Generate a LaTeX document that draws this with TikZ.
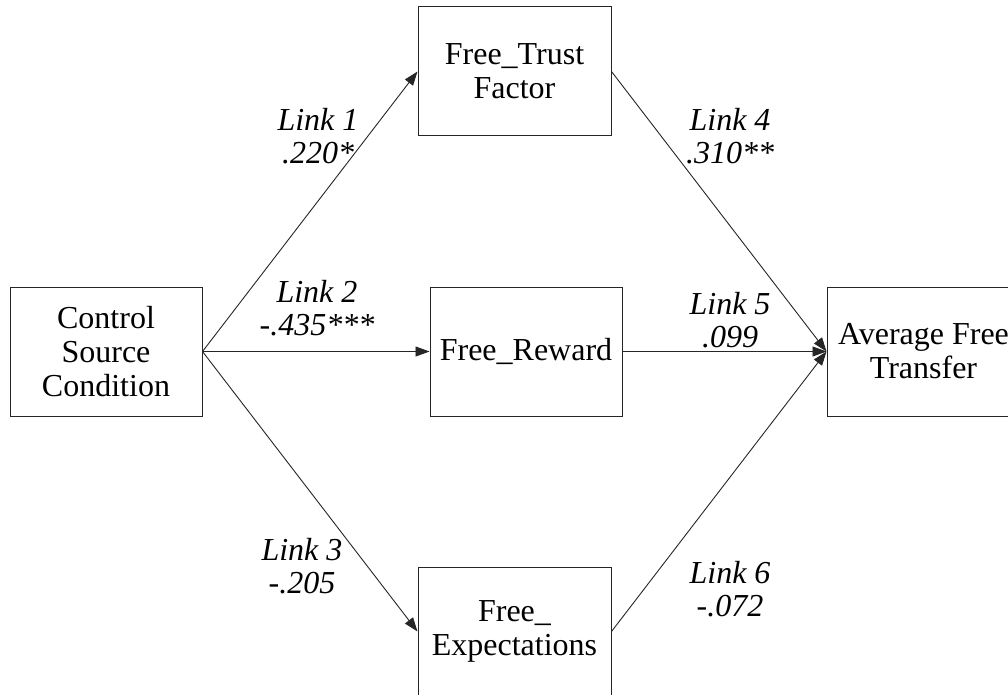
\documentclass[tikz,border=0pt]{standalone}
\usepackage{fontspec}
\setmainfont{Liberation Serif}
\usetikzlibrary{arrows.meta}
\begin{document}
\begin{tikzpicture}[x=1pt,y=-1pt,
  box/.style={draw=black!85, line width=1pt, minimum width=193pt, minimum height=129pt,
    inner sep=0pt, align=center, font=\fontsize{32}{34}\selectfont},
  lbl/.style={inner sep=0pt, align=center, font=\fontsize{32}{33}\selectfont\itshape},
  arr/.style={draw=black!85, line width=0.9pt, -{Triangle[length=14pt,width=10pt]}}]
  \useasboundingbox (0,0) rectangle (1008,695);
  \clip (0,0) rectangle (1008,695);
  \fill[white] (0,0) rectangle (1008,695);

  % variables
  \node[box, minimum width=192pt] (ctrl) at (106,351.5) {Control\\Source\\Condition};
  \node[box] (trust) at (514.5,71.5) {Free\_Trust\\Factor};
  \node[box, minimum width=192pt] (reward) at (526,351.5) {Free\_Reward};
  \node[box] (expect) at (514.5,631.5) {Free\_\\Expectations};
  \node[box] (avg) at (923.5,351.5) {Average Free\\Transfer};

  % paths
  \draw[arr] (ctrl.east) -- (trust.west);
  \draw[arr] (ctrl.east) -- (reward.west);
  \draw[arr] (ctrl.east) -- (expect.west);
  \draw[arr] (trust.east) -- (avg.west);
  \draw[arr] (reward.east) -- (avg.west);
  \draw[arr] (expect.east) -- (avg.west);

  % path coefficients
  \node[lbl] (l1) at (318,136.5) {Link 1\\.220*};
  \node[lbl] (l2) at (317,308.5) {Link 2\\-.435***};
  \node[lbl] (l3) at (302,566.5) {Link 3\\-.205};
  \node[lbl] (l4) at (730,136.5) {Link 4\\.310**};
  \node[lbl] (l5) at (730,320) {Link 5\\.099};
  \node[lbl] (l6) at (730,589.5) {Link 6\\-.072};
\end{tikzpicture}
\end{document}
